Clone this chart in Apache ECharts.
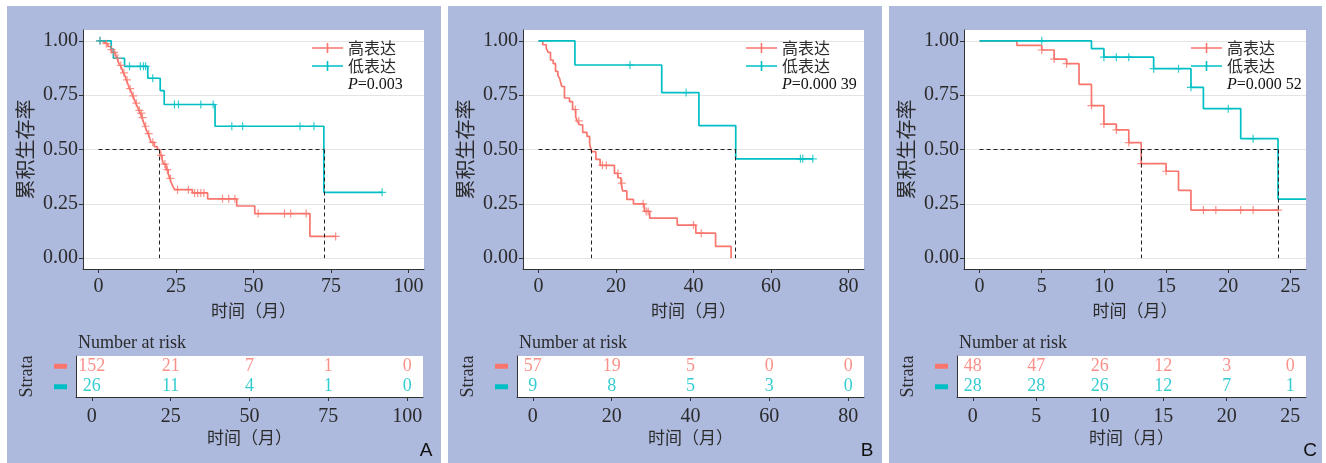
<!DOCTYPE html>
<html>
<head>
<meta charset="utf-8">
<script src="https://cdn.jsdelivr.net/npm/echarts@6/dist/echarts.min.js"></script>
<style>
html, body { margin: 0; padding: 0; background: #fff; }
#chart { width: 1326px; height: 463px; }
</style>
</head>
<body>
<div id="chart"></div>
<script>
// 分组
const groups = ['高表达', '低表达'];
const colors = ['#F8766D', '#00BFC4'];
const yTicks = [0, 0.25, 0.5, 0.75, 1];

// ---- A ----
const ticksA = [0, 25, 50, 75, 100];
const highTimeA = [0, 1, 2, 3, 4, 4.5, 5.5, 6, 6.5, 7, 7.5, 8, 8.5, 9, 9.5, 10, 10.5, 11, 11.5, 12, 12.5, 13, 13.5, 14, 14.5, 15, 15.5, 16, 16.5, 17, 18, 19, 19.8, 20.5, 21, 21.8, 22.5, 23, 23.5, 24, 24.6, 30.3, 35.2, 44.6, 50.4, 68.2, 76.5];
const highSurvA = [1, 0.993, 0.987, 0.974, 0.96, 0.947, 0.934, 0.92, 0.9, 0.887, 0.873, 0.853, 0.84, 0.82, 0.8, 0.78, 0.767, 0.747, 0.733, 0.713, 0.7, 0.68, 0.667, 0.647, 0.627, 0.607, 0.587, 0.573, 0.553, 0.533, 0.513, 0.5, 0.473, 0.453, 0.433, 0.407, 0.387, 0.367, 0.347, 0.33, 0.315, 0.3, 0.273, 0.24, 0.205, 0.1, 0.1];
const highCensorA = [[0.5, 1], [2.5, 0.987], [4.2, 0.96], [5, 0.947], [6.2, 0.92], [7.2, 0.887], [8.2, 0.853], [9.2, 0.82], [10.2, 0.78], [11.2, 0.747], [12.2, 0.713], [13.2, 0.68], [13.8, 0.667], [14.2, 0.647], [15.2, 0.607], [16.2, 0.573], [17.5, 0.533], [20.2, 0.473], [21.4, 0.433], [22.2, 0.407], [23.2, 0.367], [25.5, 0.315], [29, 0.315], [31, 0.3], [32, 0.3], [33, 0.3], [34, 0.3], [40, 0.273], [42, 0.273], [44, 0.273], [51.5, 0.205], [60, 0.205], [62, 0.205], [67, 0.205], [76.5, 0.1]];
const lowTimeA = [0, 4.1, 4.8, 8.4, 15.9, 19.9, 21.2, 37.6, 72.7, 91.5];
const lowSurvA = [1, 0.962, 0.92, 0.883, 0.828, 0.771, 0.707, 0.607, 0.303, 0.303];
const lowCensorA = [[0.5, 1], [10, 0.883], [13.5, 0.883], [14.5, 0.883], [15.2, 0.883], [17.5, 0.828], [24.5, 0.707], [25.8, 0.707], [33, 0.707], [37, 0.707], [43, 0.607], [46.5, 0.607], [65, 0.607], [69.5, 0.607], [91.5, 0.303]];
const mediansA = [19.7, 72.7];
const riskHighA = [152, 21, 7, 1, 0];
const riskLowA = [26, 11, 4, 1, 0];
const pValueA = '0.003';

// ---- B ----
const ticksB = [0, 20, 40, 60, 80];
const highTimeB = [0, 1.1, 2, 2.5, 3.1, 3.8, 4.4, 5, 5.5, 6, 6.7, 8, 8.8, 9.6, 10, 10.5, 11.4, 12.5, 13.2, 13.7, 14.8, 15.9, 19.6, 20.5, 21.3, 21.7, 22.8, 24.5, 27.3, 28.7, 35.8, 40.6, 45.7, 49.7];
const highSurvB = [1, 0.982, 0.965, 0.947, 0.912, 0.895, 0.86, 0.842, 0.824, 0.79, 0.737, 0.72, 0.684, 0.65, 0.632, 0.614, 0.579, 0.56, 0.526, 0.49, 0.455, 0.427, 0.39, 0.37, 0.345, 0.31, 0.27, 0.25, 0.215, 0.184, 0.152, 0.115, 0.054, 0];
const highCensorB = [[9.5, 0.684], [10.4, 0.632], [16.5, 0.427], [17.5, 0.427], [20.5, 0.39], [21.5, 0.345], [27, 0.25], [27.8, 0.215], [28.3, 0.215], [40, 0.152], [42, 0.115]];
const lowTimeB = [0, 9.4, 31.8, 41.4, 50.9, 70.8];
const lowSurvB = [1, 0.889, 0.762, 0.61, 0.457, 0.457];
const lowCensorB = [[23.6, 0.889], [38.1, 0.762], [67.6, 0.457], [68.2, 0.457], [70.8, 0.457]];
const mediansB = [13.7, 50.9];
const riskHighB = [57, 19, 5, 0, 0];
const riskLowB = [9, 8, 5, 3, 0];
const pValueB = '0.000 39';

// ---- C ----
const ticksC = [0, 5, 10, 15, 20, 25];
const highTimeC = [0, 3, 5, 6, 7, 8, 9, 10, 11, 12, 13, 15, 16, 17, 24];
const highSurvC = [1, 0.979, 0.958, 0.916, 0.895, 0.8, 0.702, 0.617, 0.59, 0.532, 0.435, 0.4, 0.312, 0.221, 0.221];
const highCensorC = [[5, 0.958], [6, 0.916], [7, 0.895], [9, 0.702], [10, 0.617], [11, 0.59], [12, 0.532], [13, 0.435], [15, 0.4], [18, 0.221], [19, 0.221], [21, 0.221], [22, 0.221], [24, 0.221]];
const lowTimeC = [0, 9, 10, 14, 17, 18, 21, 24, 26.25];
const lowSurvC = [1, 0.964, 0.925, 0.872, 0.786, 0.688, 0.55, 0.272, 0.272];
const lowCensorC = [[5, 1], [10, 0.925], [11, 0.925], [12, 0.925], [14, 0.872], [16, 0.872], [17, 0.786], [20, 0.688], [22, 0.55]];
const mediansC = [13, 24];
const riskHighC = [48, 47, 26, 12, 3, 0];
const riskLowC = [28, 28, 26, 12, 7, 1];
const pValueC = '0.000 52';

const panels = [
    { ticks: ticksA, high: [highTimeA, highSurvA], low: [lowTimeA, lowSurvA], censor: [highCensorA, lowCensorA], med: mediansA, risk: [riskHighA, riskLowA], p: pValueA, letter: 'A' },
    { ticks: ticksB, high: [highTimeB, highSurvB], low: [lowTimeB, lowSurvB], censor: [highCensorB, lowCensorB], med: mediansB, risk: [riskHighB, riskLowB], p: pValueB, letter: 'B' },
    { ticks: ticksC, high: [highTimeC, highSurvC], low: [lowTimeC, lowSurvC], censor: [highCensorC, lowCensorC], med: mediansC, risk: [riskHighC, riskLowC], p: pValueC, letter: 'C' }
];

// 版面
const layout = [
    { bg: [7, 441], km: [83, 341], tab: [76, 347], xr: [-5, 105], legendX: 312, letterX: 426 },
    { bg: [448, 882], km: [523, 341], tab: [517, 347], xr: [-4, 84], legendX: 746, letterX: 867 },
    { bg: [889, 1322], km: [964, 342], tab: [957, 349], xr: [-1.25, 26.25], legendX: 1191, letterX: 1310 }
];

const serif = "'Liberation Serif', 'Noto Sans CJK SC', serif";
const cjk = "'Noto Sans CJK SC', sans-serif";
const txt = '#2b2b2b';
const axisCol = '#333';
const plusPath = 'path://M3.4,0h1.2v8h-1.2z M0,3.4h8v1.2h-8z';
const legendIcon = 'path://M0,4.2h31v1.6h-31z M14.7,0h1.6v10h-1.6z';

const option = { animation: false, grid: [], xAxis: [], yAxis: [], series: [], legend: [], graphic: [] };

panels.forEach((p, i) => {
    const L = layout[i];
    const gk = 2 * i, gt = 2 * i + 1;

    option.graphic.push({ type: 'rect', z: -10, shape: { x: L.bg[0], y: 6, width: L.bg[1] - L.bg[0], height: 457 }, style: { fill: '#adbade' } });

    option.grid.push({ left: L.km[0], top: 30, width: L.km[1], height: 239, show: true, backgroundColor: '#fff', borderWidth: 0 });
    option.grid.push({ left: L.tab[0], top: 356, width: L.tab[1], height: 41, show: true, backgroundColor: '#fff', borderWidth: 0 });

    const xBase = (grid, margin, gap) => ({
        gridIndex: grid, type: 'value', min: L.xr[0], max: L.xr[1],
        axisLine: { show: true, onZero: false, lineStyle: { color: axisCol, width: 1 } },
        axisTick: { show: true, length: 4, customValues: p.ticks, lineStyle: { color: axisCol } },
        axisLabel: { customValues: p.ticks, fontSize: 20, fontFamily: serif, color: txt, margin: margin },
        splitLine: { show: false },
        name: '时间（月）', nameLocation: 'middle', nameGap: gap,
        nameTextStyle: { fontSize: 17, fontFamily: cjk, color: txt }
    });
    option.xAxis.push(xBase(gk, 8, 30));
    option.xAxis.push(xBase(gt, 10, 32));

    option.yAxis.push({
        gridIndex: gk, type: 'value', min: -0.05, max: 1.05,
        axisLine: { show: true, onZero: false, lineStyle: { color: axisCol, width: 1 } },
        axisTick: { show: true, length: 4, customValues: yTicks, lineStyle: { color: axisCol } },
        axisLabel: { customValues: yTicks, formatter: v => v.toFixed(2), fontSize: 20, fontFamily: serif, color: txt, margin: 5 },
        splitLine: { show: true, lineStyle: { color: '#e4e4e4', width: 1 } },
        name: '累积生存率', nameLocation: 'middle', nameGap: 48,
        nameTextStyle: { fontSize: 20, fontFamily: cjk, color: txt }
    });
    option.yAxis.push({
        gridIndex: gt, type: 'category', data: groups, inverse: true,
        axisLine: { show: true, onZero: false, lineStyle: { color: axisCol, width: 1 } },
        axisTick: { show: false },
        axisLabel: {
            margin: 9,
            formatter: (v, idx) => '{g' + idx + '|}',
            rich: {
                g0: { width: 13, height: 5, backgroundColor: colors[0] },
                g1: { width: 13, height: 5, backgroundColor: colors[1] }
            }
        },
        splitLine: { show: false },
        name: 'Strata', nameLocation: 'middle', nameGap: 40,
        nameTextStyle: { fontSize: 18, fontFamily: serif, color: txt }
    });

    // 生存曲线
    [p.high, p.low].forEach((c, gi) => {
        option.series.push({
            name: groups[gi], type: 'line', step: 'end', symbol: 'none',
            xAxisIndex: gk, yAxisIndex: gk, z: 3,
            data: c[0].map((t, k) => [t, c[1][k]]),
            lineStyle: { color: colors[gi], width: 1.7 },
            itemStyle: { color: colors[gi] }
        });
        option.series.push({
            type: 'scatter', symbol: plusPath, symbolSize: 8,
            xAxisIndex: gk, yAxisIndex: gk, z: 4,
            data: p.censor[gi],
            itemStyle: { color: colors[gi] }
        });
        // 风险人数
        option.series.push({
            type: 'scatter', symbolSize: 1,
            xAxisIndex: gt, yAxisIndex: gt,
            data: p.ticks.map((t, k) => [t, gi, p.risk[gi][k]]),
            itemStyle: { color: 'transparent' },
            label: { show: true, position: 'inside', formatter: d => d.value[2], fontSize: 18, fontFamily: serif, color: colors[gi] }
        });
    });

    // 中位生存时间
    const mMax = Math.max(...p.med);
    option.series.push({
        type: 'line', data: [], xAxisIndex: gk, yAxisIndex: gk,
        markLine: {
            silent: true, symbol: ['none', 'none'], label: { show: false },
            lineStyle: { color: '#222', width: 1, type: [4, 3] },
            data: [[{ coord: [0, 0.5] }, { coord: [mMax, 0.5] }]].concat(
                p.med.map(m => [{ coord: [m, 0.5] }, { coord: [m, 0] }]))
        }
    });

    option.legend.push({
        orient: 'vertical', left: L.legendX, top: 39, padding: 0, itemGap: 0,
        itemWidth: 31, itemHeight: 10, selectedMode: false,
        textStyle: { fontSize: 16, fontFamily: cjk, color: txt, lineHeight: 18 },
        data: groups.map(g => ({ name: g, icon: legendIcon }))
    });

    option.graphic.push({
        type: 'text', x: L.legendX + 36, y: 85,
        style: {
            text: '{i|P}{n|=' + p.p + '}',
            verticalAlign: 'middle',
            rich: {
                i: { fontStyle: 'italic', fontFamily: serif, fontSize: 16, fill: '#111' },
                n: { fontFamily: serif, fontSize: 16, fill: '#111' }
            }
        }
    });
    option.graphic.push({
        type: 'text', x: L.tab[0] + 2, y: 343,
        style: { text: 'Number at risk', fontFamily: serif, fontSize: 18, fill: txt, verticalAlign: 'middle' }
    });
    option.graphic.push({
        type: 'text', x: L.letterX, y: 451,
        style: { text: p.letter, fontFamily: "'Liberation Sans', sans-serif", fontSize: 19, fill: '#111', align: 'center', verticalAlign: 'middle' }
    });
});

const chart = echarts.init(document.getElementById('chart'));
chart.setOption(option);
</script>
</body>
</html>
